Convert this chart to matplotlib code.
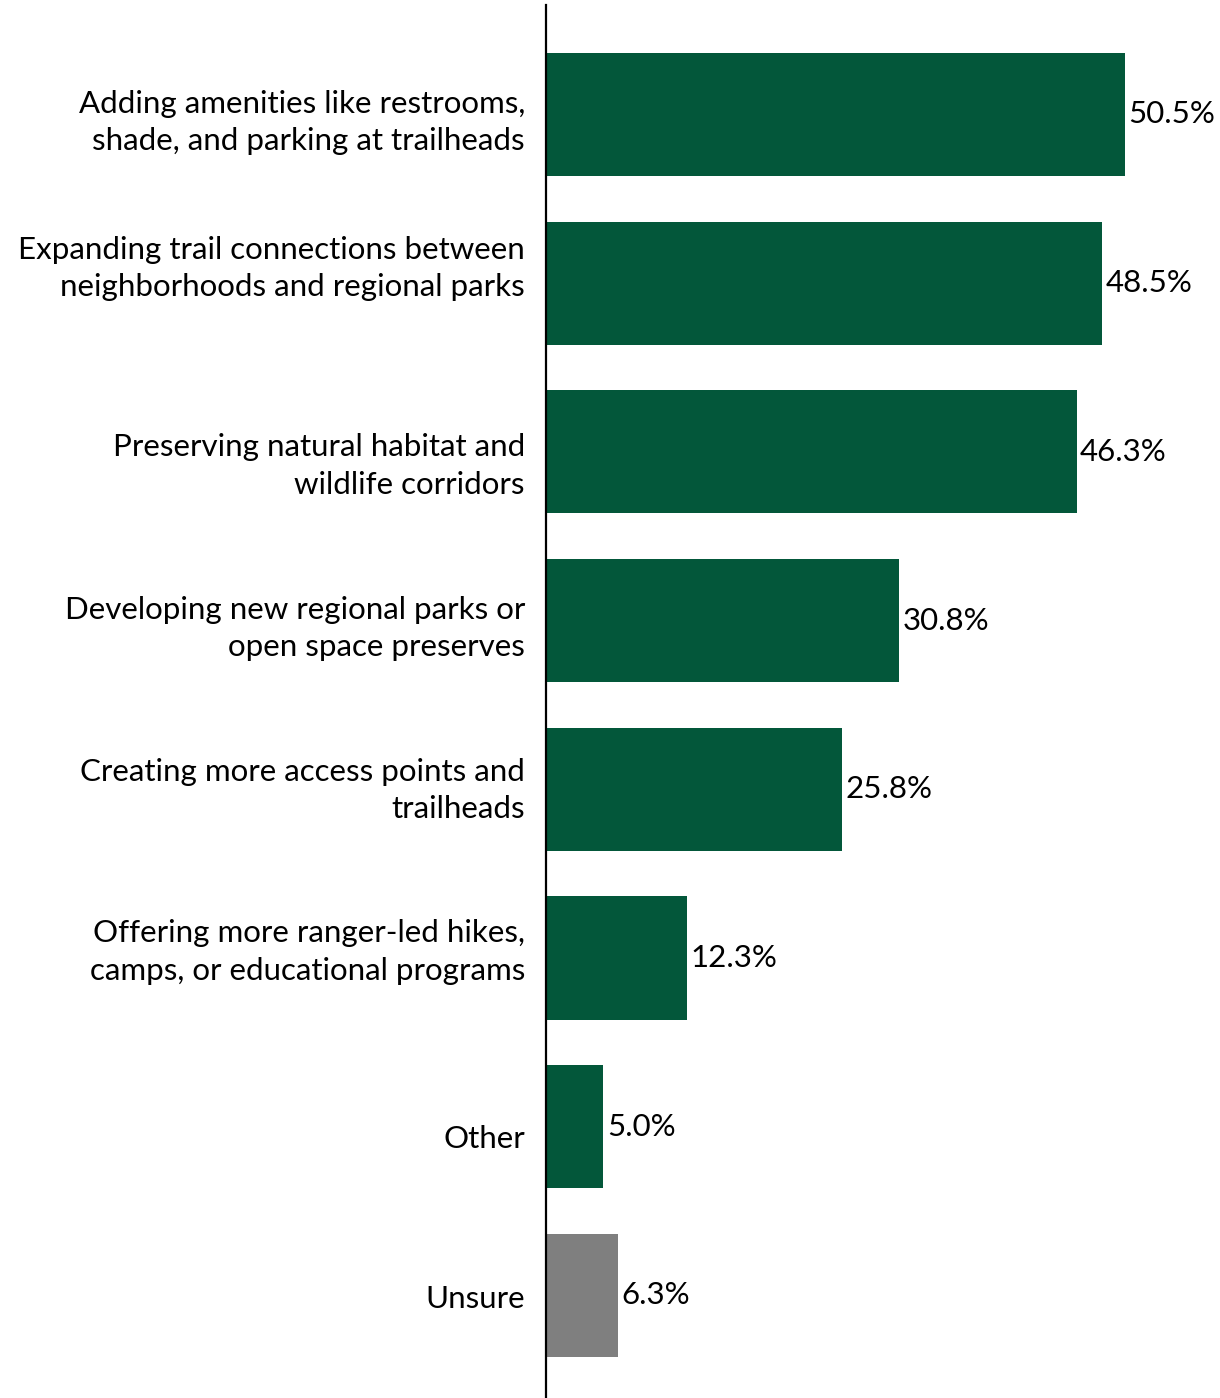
import matplotlib.pyplot as plt
from matplotlib.transforms import offset_copy

plt.rcParams['font.family'] = ['Lato', 'DejaVu Sans']

categories = [
    "Adding amenities like restrooms,\nshade, and parking at trailheads",
    "Expanding trail connections between\nneighborhoods and regional parks",
    "Preserving natural habitat and\nwildlife corridors",
    "Developing new regional parks or\nopen space preserves",
    "Creating more access points and\ntrailheads",
    "Offering more ranger-led hikes,\ncamps, or educational programs",
    "Other",
    "Unsure",
]
values = [50.5, 48.5, 46.3, 30.8, 25.8, 12.3, 5.0, 6.3]
colors = ["#03573A"] * 7 + ["#7F7F7F"]

# vertical nudge (pixels, downward) for each category label
label_nudge = [8, -15, 14, 8, 1, -6, 12, 4]

W, H = 1220, 1398
fig = plt.figure(figsize=(W / 100, H / 100), dpi=100)
ax = fig.add_axes([546 / W, 0, (W - 546) / W, 1393 / H])

pos = list(range(len(values)))
ax.barh(pos, values, height=0.73, color=colors)
ax.set_xlim(0, 58.8)
ax.set_ylim(7.608, -0.649)

for p, v in zip(pos, values):
    ax.text(v + 0.3, p, f"{v:.1f}%", va="center", ha="left", fontsize=22.5)

trans = ax.get_yaxis_transform()
for p, lab, dy in zip(pos, categories, label_nudge):
    t = offset_copy(trans, fig=fig, x=-21, y=-dy, units="dots")
    ax.text(0, p, lab, transform=t, ha="right", va="center",
            multialignment="right", fontsize=22.5, linespacing=1.4)

ax.set_yticks([])
ax.set_xticks([])
for s in ["top", "right", "bottom"]:
    ax.spines[s].set_visible(False)
ax.spines["left"].set_linewidth(1.6)

fig.savefig("out.png", dpi=100)
